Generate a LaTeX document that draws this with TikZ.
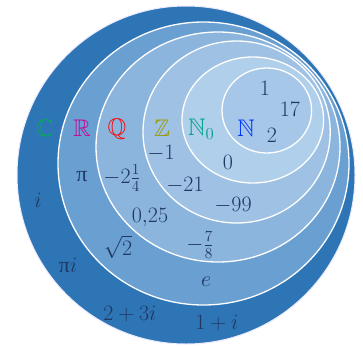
\RequirePackage{fix-cm}
\documentclass[tikz,border=0pt]{standalone}
\usepackage{amsmath,amssymb}
\usepackage{fontspec}
\newfontfamily\pifont{Liberation Serif}
\definecolor{cC}{HTML}{2E75B6}
\definecolor{cR}{HTML}{6A9FD2}
\definecolor{cQ}{HTML}{8CB5DE}
\definecolor{cZ}{HTML}{9FC2E4}
\definecolor{cNz}{HTML}{B0CFEA}
\definecolor{cN}{HTML}{A7C7E8}
\definecolor{txt}{HTML}{203864}
\definecolor{lC}{HTML}{00B050}
\definecolor{lR}{HTML}{CC0099}
\definecolor{lQ}{HTML}{FF0000}
\definecolor{lZ}{HTML}{999900}
\definecolor{lNz}{HTML}{00A08A}
\definecolor{lN}{HTML}{0033FF}
\newcommand{\upp}{\text{\pifont π}}
\begin{document}
\begin{tikzpicture}[x=1pt,y=-1pt,
  ring/.style={draw=white,line width=1.3pt},
  num/.style={text=txt,inner sep=0pt,font=\fontsize{22}{26}\selectfont},
  setlbl/.style={inner sep=0pt,font=\fontsize{24}{28}\selectfont}]
\useasboundingbox (0,0) rectangle (363,345);
\fill[white] (0,0) rectangle (363,345);
\fill[cC,draw=blue!8,line width=1pt] (186,175) circle (169pt);
\fill[cR,ring] (203.5,163.5) ellipse [x radius=145.5pt, y radius=141.5pt];
\fill[cQ,ring] (218,147) ellipse [x radius=122pt, y radius=115pt];
\fill[cZ,ring] (236.6,132) ellipse [x radius=93.6pt, y radius=91pt];
\fill[cNz,ring] (252.8,120) ellipse [x radius=70.8pt, y radius=63pt];
\fill[cN,ring] (266.8,110.5) ellipse [x radius=44.8pt, y radius=42.5pt];
% set labels
\node[setlbl,text=lC] (lc) at (45,128) {$\mathbb{C}$};
\node[setlbl,text=lR] (lr) at (82,128) {$\mathbb{R}$};
\node[setlbl,text=lQ] (lq) at (117,129) {$\mathbb{Q}$};
\node[setlbl,text=lZ] (lz) at (162,128) {$\mathbb{Z}$};
\node[setlbl,text=lNz,anchor=west] (lnz) at (188,129.5) {$\mathbb{N}_{0}$};
\node[setlbl,text=lN] (ln) at (246,128) {$\mathbb{N}$};
% numbers
\node[num] (n1) at (265,88) {$1$};
\node[num] (n17) at (290,109) {$17$};
\node[num] (n2) at (272,135) {$2$};
\node[num] (nm1) at (161,153) {$-1$};
\node[num] (n0) at (228,162) {$0$};
\node[num] (npi) at (82,177) {$\upp$};
\node[num] (nm214) at (122,178) {$-2\tfrac{1}{4}$};
\node[num] (nm21) at (185,185) {$-21$};
\node[num] (ni) at (38,200) {$i$};
\node[num] (nm99) at (233,205) {$-99$};
\node[num] (n025) at (150,218) {$0{,}25$};
\node[num] (nm78) at (200,245) {$-\tfrac{7}{8}$};
\node[num] (nsq) at (118,247) {$\sqrt{2}$};
\node[num] (npii) at (68,265) {$\upp i$};
\node[num] (ne) at (206,282) {$e$};
\node[num] (n23i) at (130,314) {$2+3i$};
\node[num] (n1i) at (217,323) {$1+i$};
\end{tikzpicture}
\end{document}
